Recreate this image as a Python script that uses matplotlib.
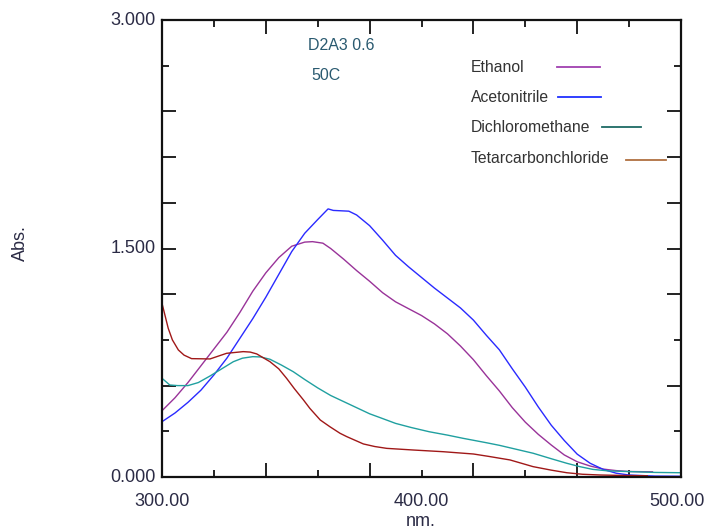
import matplotlib
matplotlib.use("Agg")
import matplotlib.pyplot as plt
from matplotlib.lines import Line2D

# ---------------- data ----------------
eth_nm = [300, 305, 310, 315, 320, 325, 330, 335, 340, 345, 350, 355, 358, 362, 365,
          370, 375, 380, 385, 390, 395, 400, 405, 410, 415, 420, 425, 430, 435, 440,
          445, 450, 455, 460, 465, 470, 475, 480, 489]
eth_abs = [0.435, 0.52, 0.62, 0.73, 0.84, 0.95, 1.08, 1.22, 1.34, 1.44, 1.515, 1.542, 1.545, 1.535, 1.50,
           1.43, 1.355, 1.285, 1.21, 1.15, 1.105, 1.06, 1.005, 0.94, 0.86, 0.77, 0.665, 0.565, 0.455, 0.36,
           0.28, 0.21, 0.145, 0.10, 0.072, 0.052, 0.042, 0.036, 0.034]

ace_nm = [300, 305, 310, 315, 320, 325, 330, 335, 340, 345, 350, 355, 360, 364, 366,
          372, 375, 380, 385, 390, 395, 400, 405, 410, 415, 420, 425, 430, 435, 440,
          445, 450, 455, 460, 465, 470, 475, 480, 490, 500]
ace_abs = [0.363, 0.42, 0.49, 0.57, 0.67, 0.78, 0.91, 1.04, 1.18, 1.33, 1.48, 1.60, 1.69, 1.76, 1.75,
           1.745, 1.72, 1.65, 1.555, 1.455, 1.38, 1.31, 1.24, 1.175, 1.11, 1.03, 0.93, 0.835, 0.71, 0.59,
           0.46, 0.34, 0.24, 0.15, 0.09, 0.05, 0.025, 0.013, 0.006, 0.005]

dcm_nm = [300, 303, 306, 310, 314, 318.5, 323, 327.5, 331, 335, 338, 341.6, 346, 350.6, 355,
          360, 365, 370, 375, 380, 384, 390, 396, 403, 410, 416, 425, 430, 434, 443,
          450, 456, 461, 466, 472, 481, 490, 500]
dcm_abs = [0.648, 0.604, 0.60, 0.60, 0.62, 0.663, 0.71, 0.757, 0.78, 0.79, 0.788, 0.773, 0.735, 0.691, 0.64,
           0.585, 0.535, 0.495, 0.455, 0.415, 0.39, 0.352, 0.325, 0.297, 0.275, 0.254, 0.225, 0.208, 0.192, 0.156,
           0.12, 0.09, 0.068, 0.05, 0.04, 0.035, 0.03, 0.028]

ccl_nm = [300, 302.4, 304, 306.3, 308.5, 311.4, 318.5, 324.9, 331.3, 334, 336.5, 341.6, 345, 348, 351,
          354.5, 357, 361, 364.7, 368.6, 371.2, 377.6, 382, 386.6, 397, 408.4, 420, 426, 430.2, 434.1,
          443, 450, 456, 462, 469, 478, 487]
ccl_abs = [1.14, 0.976, 0.90, 0.834, 0.80, 0.777, 0.775, 0.812, 0.823, 0.82, 0.808, 0.757, 0.71, 0.648, 0.58,
           0.506, 0.45, 0.374, 0.33, 0.287, 0.265, 0.217, 0.20, 0.188, 0.177, 0.166, 0.151, 0.135, 0.123, 0.112,
           0.068, 0.045, 0.028, 0.018, 0.013, 0.010, 0.008]

series_names = ["Ethanol", "Acetonitrile", "Dichloromethane", "Tetarcarbonchloride"]
x_labels = ["300.00", "400.00", "500.00"]
x_label_pos = [300, 400, 500]
y_labels = ["0.000", "1.500", "3.000"]
y_label_pos = [0.0, 1.5, 3.0]
x_long_ticks = [340, 380, 420, 460]
x_short_ticks = [320, 360, 400, 440, 480]
y_long_ticks = [0.6, 1.2, 1.5, 1.8, 2.1, 2.4]
y_short_ticks = [0.3, 0.9, 2.7]

# ---------------- styling ----------------
curve_colors = ["#993399", "#2a2aff", "#20a0a0", "#a01818"]
legend_colors = ["#a040b0", "#2030ff", "#1e6a64", "#b07040"]
txt_col = "#2b2b45"
FONT = "Liberation Sans"

fig = plt.figure(figsize=(7.07, 5.32), dpi=100)
fig.patch.set_facecolor("white")
ax = fig.add_axes([162 / 707, 1 - 477 / 532, (681 - 162) / 707, (477 - 20) / 532])

series = [(eth_nm, eth_abs), (ace_nm, ace_abs), (dcm_nm, dcm_abs), (ccl_nm, ccl_abs)]
for (xs, ys), c in zip(series, curve_colors):
    ax.plot(xs, ys, color=c, lw=1.0)

ax.set_xlim(300, 500)
ax.set_ylim(0, 3)

for s in ax.spines.values():
    s.set_linewidth(1.6)
    s.set_color("#111111")

ax.set_xticks(x_long_ticks)
ax.set_xticks(x_short_ticks, minor=True)
ax.set_yticks(y_long_ticks)
ax.set_yticks(y_short_ticks, minor=True)
ax.tick_params(axis="both", which="both", direction="in", top=True, right=True,
               labelbottom=False, labelleft=False, color="#111111", width=1.3)
ax.tick_params(which="major", length=10)
ax.tick_params(which="minor", length=5)

# tick labels as text
for v, t in zip(x_label_pos, x_labels):
    if v == x_label_pos[-1]:
        ax.text(v + 24 / 519 * 200, -25 / 457 * 3, t, ha="right", va="center", fontsize=13,
                family=FONT, color=txt_col, clip_on=False)
    else:
        ax.text(v, -25 / 457 * 3, t, ha="center", va="center", fontsize=13,
                family=FONT, color=txt_col, clip_on=False)
for v, t in zip(y_label_pos, y_labels):
    ax.text(-6 / 519 * 200 + 300, v, t, ha="right", va="center", fontsize=13,
            family=FONT, color=txt_col, clip_on=False)

fig.text(421 / 707, 1 - 522 / 532, "nm.", ha="center", va="center", fontsize=13,
         family=FONT, color=txt_col)
fig.text(20 / 707, 1 - 243 / 532, "Abs.", ha="center", va="center", fontsize=13,
         family=FONT, color=txt_col, rotation=90)

# annotations
fig.text(308 / 707, 1 - 45 / 532, "D2A3 0.6", ha="left", va="center", fontsize=11.5,
         family=FONT, color="#2a5a70")
fig.text(311 / 707, 1 - 76 / 532, "50C", ha="left", va="center", fontsize=11.5,
         family=FONT, color="#2a5a70")

# legend (manual)
leg_text_y = [68, 98, 128, 158]
leg_line = [(557, 600, 67), (558, 601, 97), (602, 641, 127), (626, 666, 160)]
for name, ty, (x0, x1, ly), c in zip(series_names, leg_text_y, leg_line, legend_colors):
    fig.text(471 / 707, 1 - ty / 532, name, ha="left", va="center", fontsize=11.3,
             family=FONT, color="#333333")
    fig.add_artist(Line2D([x0 / 707, x1 / 707], [1 - ly / 532, 1 - ly / 532],
                          color=c, lw=1.3, transform=fig.transFigure))

fig.savefig("out.png", dpi=100, facecolor="white")
